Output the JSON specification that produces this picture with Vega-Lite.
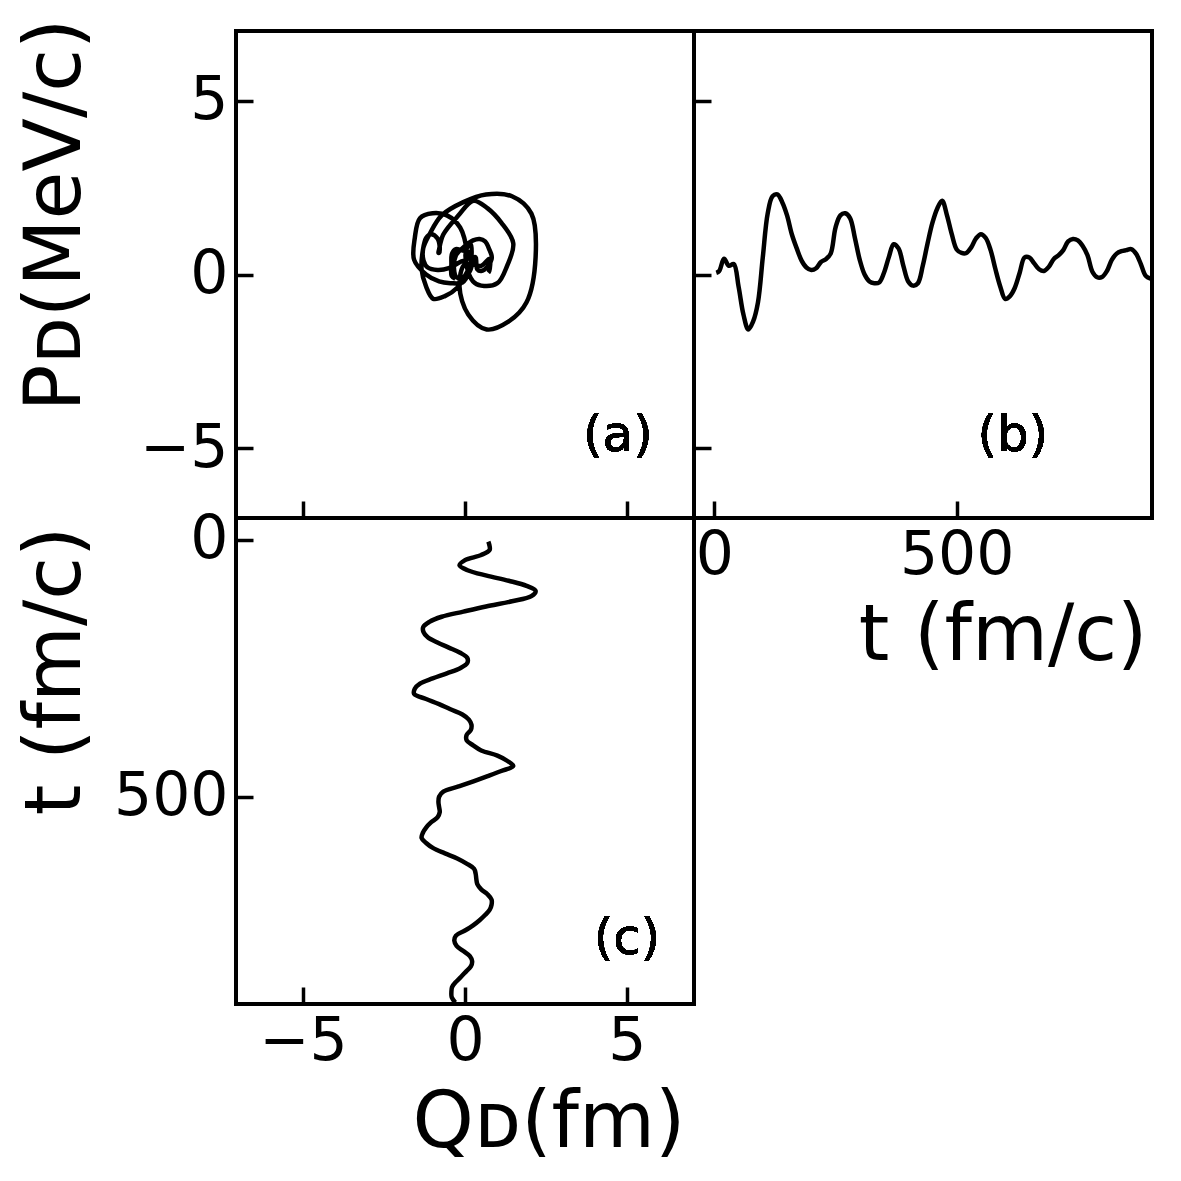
{
  "$schema": "https://vega.github.io/schema/vega-lite/v6.json",
  "background": "white",
  "padding": {"left": 15, "top": 16, "right": 0, "bottom": 0},
  "columns": 2,
  "spacing": 0,
  "bounds": "flush",
  "datasets": {
    "d": [
      {"t": 4, "Q": 0.72, "P": 0.05},
      {"t": 10, "Q": 0.75, "P": 0.1},
      {"t": 20, "Q": 0.76, "P": 0.45},
      {"t": 30, "Q": 0.5, "P": 0.25},
      {"t": 40, "Q": 0.0, "P": 0.3},
      {"t": 50, "Q": -0.17, "P": -0.35},
      {"t": 60, "Q": 0.1, "P": -1.15},
      {"t": 70, "Q": 0.67, "P": -1.58},
      {"t": 80, "Q": 1.35, "P": -1.35},
      {"t": 90, "Q": 1.9, "P": -0.8},
      {"t": 100, "Q": 2.18, "P": 0.5},
      {"t": 110, "Q": 2.05, "P": 1.75},
      {"t": 120, "Q": 1.45, "P": 2.25},
      {"t": 130, "Q": 0.65, "P": 2.3},
      {"t": 140, "Q": -0.05, "P": 2.08},
      {"t": 150, "Q": -0.72, "P": 1.7},
      {"t": 160, "Q": -1.1, "P": 1.15},
      {"t": 170, "Q": -1.29, "P": 0.75},
      {"t": 180, "Q": -1.28, "P": 0.4},
      {"t": 190, "Q": -1.15, "P": 0.2},
      {"t": 200, "Q": -0.85, "P": 0.13},
      {"t": 210, "Q": -0.5, "P": 0.18},
      {"t": 220, "Q": -0.15, "P": 0.36},
      {"t": 230, "Q": 0.07, "P": 0.44},
      {"t": 240, "Q": 0.07, "P": 0.6},
      {"t": 250, "Q": -0.15, "P": 1.35},
      {"t": 260, "Q": -0.56, "P": 1.7},
      {"t": 270, "Q": -1.0, "P": 1.76},
      {"t": 280, "Q": -1.39, "P": 1.62},
      {"t": 290, "Q": -1.55, "P": 1.05},
      {"t": 300, "Q": -1.57, "P": 0.42},
      {"t": 310, "Q": -1.2, "P": 0.0},
      {"t": 320, "Q": -0.8, "P": -0.2},
      {"t": 330, "Q": -0.45, "P": -0.25},
      {"t": 340, "Q": -0.08, "P": -0.23},
      {"t": 350, "Q": 0.12, "P": 0.05},
      {"t": 360, "Q": 0.2, "P": 0.5},
      {"t": 370, "Q": 0.18, "P": 0.87},
      {"t": 380, "Q": 0.05, "P": 0.75},
      {"t": 390, "Q": 0.05, "P": 0.25},
      {"t": 400, "Q": 0.25, "P": -0.2},
      {"t": 410, "Q": 0.5, "P": -0.32},
      {"t": 420, "Q": 1.0, "P": -0.25},
      {"t": 430, "Q": 1.3, "P": 0.25},
      {"t": 440, "Q": 1.49, "P": 0.9},
      {"t": 450, "Q": 1.12, "P": 1.49},
      {"t": 460, "Q": 0.7, "P": 1.9},
      {"t": 470, "Q": 0.26, "P": 2.12},
      {"t": 480, "Q": -0.2, "P": 1.7},
      {"t": 490, "Q": -0.67, "P": 1.15},
      {"t": 500, "Q": -0.8, "P": 0.72},
      {"t": 510, "Q": -0.82, "P": 0.62},
      {"t": 520, "Q": -0.8, "P": 0.62},
      {"t": 530, "Q": -0.78, "P": 0.78},
      {"t": 540, "Q": -0.85, "P": 1.04},
      {"t": 550, "Q": -1.05, "P": 1.16},
      {"t": 560, "Q": -1.2, "P": 1.05},
      {"t": 570, "Q": -1.3, "P": 0.7},
      {"t": 580, "Q": -1.34, "P": 0.15},
      {"t": 590, "Q": -1.2, "P": -0.35},
      {"t": 600, "Q": -0.98, "P": -0.7},
      {"t": 610, "Q": -0.62, "P": -0.62},
      {"t": 620, "Q": -0.24, "P": -0.38},
      {"t": 630, "Q": 0.05, "P": 0.05},
      {"t": 640, "Q": 0.28, "P": 0.49},
      {"t": 650, "Q": 0.33, "P": 0.49},
      {"t": 660, "Q": 0.35, "P": 0.32},
      {"t": 670, "Q": 0.38, "P": 0.15},
      {"t": 680, "Q": 0.5, "P": 0.1},
      {"t": 690, "Q": 0.7, "P": 0.22},
      {"t": 700, "Q": 0.82, "P": 0.44},
      {"t": 710, "Q": 0.82, "P": 0.55},
      {"t": 720, "Q": 0.76, "P": 0.7},
      {"t": 730, "Q": 0.62, "P": 0.95},
      {"t": 740, "Q": 0.45, "P": 1.02},
      {"t": 750, "Q": 0.25, "P": 0.98},
      {"t": 760, "Q": 0.0, "P": 0.82},
      {"t": 770, "Q": -0.28, "P": 0.55},
      {"t": 780, "Q": -0.33, "P": 0.08},
      {"t": 790, "Q": -0.26, "P": -0.08},
      {"t": 800, "Q": -0.05, "P": -0.07},
      {"t": 810, "Q": 0.15, "P": 0.1},
      {"t": 820, "Q": 0.22, "P": 0.42},
      {"t": 830, "Q": 0.18, "P": 0.6},
      {"t": 840, "Q": 0.03, "P": 0.67},
      {"t": 850, "Q": -0.12, "P": 0.7},
      {"t": 860, "Q": -0.28, "P": 0.73},
      {"t": 870, "Q": -0.4, "P": 0.6},
      {"t": 880, "Q": -0.42, "P": 0.3},
      {"t": 890, "Q": -0.41, "P": -0.04},
      {"t": 900, "Q": -0.3, "P": -0.12}
    ]
  },
  "concat": [
    {
      "width": 458,
      "height": 487,
      "data": {"name": "d"},
      "layer": [
        {
          "mark": {"type": "line", "stroke": "black", "strokeWidth": 4.5, "interpolate": "catmull-rom"},
          "encoding": {
            "x": {"field": "Q", "type": "quantitative",
                  "scale": {"domain": [-7.07, 7.07], "nice": false, "zero": false},
                  "axis": {"values": [-5, 0, 5], "labels": false, "title": null}},
            "y": {"field": "P", "type": "quantitative",
                  "scale": {"domain": [-7, 7], "nice": false, "zero": false},
                  "axis": {"values": [-5, 0, 5], "title": "Pᴅ(MeV/c)",
                           "titleX": -180, "titleY": -13, "titleAngle": 270,
                           "titleAlign": "right", "titleBaseline": "middle"}},
            "order": {"field": "t", "type": "quantitative"}
          }
        },
        {
          "mark": {"type": "text", "fontSize": 50, "font": "DejaVu Sans", "color": "black"},
          "encoding": {
            "x": {"datum": 4.72},
            "y": {"datum": -4.63},
            "text": {"value": "(a)"}
          }
        }
      ]
    },
    {
      "width": 458,
      "height": 487,
      "data": {"name": "d"},
      "layer": [
        {
          "mark": {"type": "line", "stroke": "black", "strokeWidth": 4.5, "interpolate": "catmull-rom"},
          "encoding": {
            "x": {"field": "t", "type": "quantitative",
                  "scale": {"domain": [-42, 903], "nice": false, "zero": false},
                  "axis": {"values": [0, 500], "title": "t (fm/c)",
                           "titleX": 453, "titleY": 118, "titleAlign": "right",
                           "titleBaseline": "middle"}},
            "y": {"field": "P", "type": "quantitative",
                  "scale": {"domain": [-7, 7], "nice": false, "zero": false},
                  "axis": {"values": [-5, 0, 5], "labels": false, "title": null}}
          }
        },
        {
          "mark": {"type": "text", "fontSize": 50, "font": "DejaVu Sans", "color": "black"},
          "encoding": {
            "x": {"datum": 616},
            "y": {"datum": -4.63},
            "text": {"value": "(b)"}
          }
        }
      ]
    },
    {
      "width": 458,
      "height": 486,
      "data": {"name": "d"},
      "layer": [
        {
          "mark": {"type": "line", "stroke": "black", "strokeWidth": 4.5, "interpolate": "catmull-rom"},
          "encoding": {
            "x": {"field": "Q", "type": "quantitative",
                  "scale": {"domain": [-7.07, 7.07], "nice": false, "zero": false},
                  "axis": {"values": [-5, 0, 5], "title": "Qᴅ(fm)",
                           "titleX": 449, "titleY": 119, "titleAlign": "right",
                           "titleBaseline": "middle"}},
            "y": {"field": "t", "type": "quantitative",
                  "scale": {"domain": [-42, 903], "nice": false, "zero": false, "reverse": true},
                  "axis": {"values": [0, 500], "title": "t (fm/c)",
                           "titleX": -180, "titleY": 8, "titleAngle": 270,
                           "titleAlign": "right", "titleBaseline": "middle"}},
            "order": {"field": "t", "type": "quantitative"}
          }
        },
        {
          "mark": {"type": "text", "fontSize": 50, "font": "DejaVu Sans", "color": "black"},
          "encoding": {
            "x": {"datum": 5.0},
            "y": {"datum": 776},
            "text": {"value": "(c)"}
          }
        }
      ]
    }
  ],
  "config": {
    "font": "DejaVu Sans",
    "view": {"stroke": "black", "strokeWidth": 4},
    "axis": {
      "domain": false,
      "grid": false,
      "ticks": true,
      "tickColor": "black",
      "tickWidth": 3.5,
      "tickSize": -17,
      "labelPadding": 25,
      "labelFont": "DejaVu Sans",
      "labelFontSize": 60,
      "labelColor": "black",
      "titleFont": "DejaVu Sans",
      "titleFontSize": 78,
      "titleFontWeight": "normal",
      "titleColor": "black"
    }
  }
}
